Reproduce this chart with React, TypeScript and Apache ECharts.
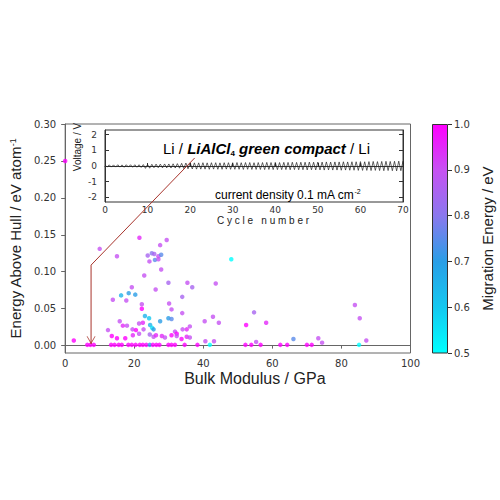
import React, { useEffect, useRef } from "react";
import * as echarts from "echarts";

// Main scatter: bulk modulus (GPa), energy above hull (eV/atom), migration energy (eV)
const bulkModulus = [
  0, 2.5, 10.0, 21.5, 27.5, 29.4, 15.0, 23.9, 25.1, 25.8, 27.0, 27.8, 24.4, 26.0, 27.0, 27.8,
  22.9, 29.9, 19.3, 26.2, 35.4, 36.8, 43.6, 16.2, 18.4, 20.3, 13.8, 17.7, 33.9, 22.2, 30.1,
  22.2, 30.8, 33.9, 23.1, 24.3, 29.9, 30.8, 15.8, 16.7, 17.9, 21.4, 22.5, 24.6, 25.2, 25.6,
  27.5, 40.4, 42.8, 44.5, 36.1, 35.2, 34.0, 12.4, 19.5, 20.5, 22.7, 31.8, 32.3, 24.5, 25.6,
  26.3, 13.5, 15.0, 17.4, 19.6, 21.4, 28.0, 28.9, 30.8, 32.3, 35.2, 36.1, 33.7, 40.6, 43.1,
  41.9,
  6.4, 7.3, 8.3, 13.3, 14.3, 15.5, 16.4, 18.3, 19.3, 20.4, 21.6, 22.5, 23.5, 24.5, 25.4, 26.4,
  27.3, 29.9, 30.8, 31.8, 34.6, 38.3,
  48.1, 54.7, 52.4, 58.2, 52.2, 53.9, 55.3, 56.6, 62.3, 64.3, 66.1, 70.0, 71.4, 73.3, 74.4,
  83.9, 85.3, 85.1, 87.2,
];
const hullEnergy = [
  0.25, 0.007, 0.131, 0.146, 0.136, 0.143, 0.121, 0.122, 0.125, 0.124, 0.121, 0.123, 0.114,
  0.116, 0.117, 0.103, 0.095, 0.085, 0.079, 0.076, 0.085, 0.079, 0.084, 0.068, 0.071, 0.069,
  0.062, 0.061, 0.066, 0.056, 0.057, 0.05, 0.049, 0.044, 0.04, 0.037, 0.037, 0.036, 0.033,
  0.027, 0.027, 0.03, 0.031, 0.028, 0.024, 0.022, 0.033, 0.033, 0.039, 0.031, 0.026, 0.022,
  0.022, 0.021, 0.022, 0.021, 0.022, 0.019, 0.016, 0.015, 0.012, 0.014, 0.013, 0.01, 0.01,
  0.014, 0.016, 0.013, 0.011, 0.014, 0.013, 0.012, 0.011, 0.009, 0.006, 0.006, 0.001,
  0.001, 0.001, 0.001, 0.001, 0.001, 0.001, 0.001, 0.001, 0.001, 0.001, 0.001, 0.001, 0.001,
  0.001, 0.001, 0.001, 0.001, 0.001, 0.001, 0.001, 0.001, 0.001,
  0.117, 0.045, 0.028, 0.031, 0.001, 0.001, 0.005, 0.001, 0.001, 0.001, 0.009, 0.001, 0.001,
  0.01, 0.004, 0.055, 0.037, 0.001, 0.007,
];
const migrationEnergy = [
  1.0, 1.0, 0.9, 0.95, 0.9, 0.9, 0.9, 0.85, 0.8, 0.85, 0.9, 0.75, 0.9, 0.75, 0.9, 0.9, 0.9,
  0.85, 0.9, 0.9, 0.9, 0.85, 0.9, 0.65, 0.7, 0.7, 0.9, 0.9, 0.85, 0.9, 0.9, 1.0, 0.9, 0.9,
  0.65, 0.6, 0.7, 0.75, 0.9, 0.95, 0.9, 0.9, 0.95, 0.65, 0.55, 0.7, 0.7, 0.9, 0.9, 0.9, 0.9,
  0.95, 0.9, 0.9, 0.9, 1.0, 0.9, 0.9, 1.0, 0.85, 0.9, 0.95, 1.0, 1.0, 1.0, 0.95, 0.9, 0.95,
  0.9, 1.0, 0.9, 0.95, 0.9, 1.0, 0.9, 0.9, 0.5,
  1.0, 1.0, 1.0, 1.0, 1.0, 1.0, 1.0, 1.0, 1.0, 1.0, 1.0, 1.0, 1.0, 0.7, 1.0, 1.0, 1.0, 1.0,
  1.0, 1.0, 1.0, 1.0,
  0.5, 0.85, 1.0, 0.95, 1.0, 1.0, 0.9, 1.0, 1.0, 1.0, 0.75, 1.0, 1.0, 0.9, 0.9, 0.9, 0.9,
  0.5, 0.9,
];

// Inset: galvanostatic cycling, per-cycle upper / lower voltage (V)
const cycleUpper = [
  0.06, 0.07, 0.07, 0.08, 0.07, 0.08, 0.08, 0.08, 0.08, 0.09,
  0.1, 0.11, 0.12, 0.12, 0.13, 0.13, 0.14, 0.15, 0.17, 0.19,
  0.2, 0.2, 0.2, 0.21, 0.2, 0.21, 0.21, 0.2, 0.21, 0.21,
  0.21, 0.22, 0.21, 0.22, 0.22, 0.21, 0.22, 0.22, 0.23, 0.22,
  0.23, 0.22, 0.23, 0.23, 0.24, 0.23, 0.24, 0.24, 0.25, 0.24,
  0.25, 0.25, 0.26, 0.25, 0.26, 0.26, 0.27, 0.26, 0.27, 0.27,
  0.28, 0.27, 0.28, 0.29, 0.28, 0.29, 0.3, 0.29, 0.3, 0.31, 0.3,
];
const cycleLower = [
  -0.06, -0.07, -0.07, -0.07, -0.08, -0.07, -0.08, -0.08, -0.09, -0.15,
  -0.14, -0.11, -0.11, -0.12, -0.12, -0.13, -0.13, -0.14, -0.16, -0.18,
  -0.19, -0.2, -0.2, -0.2, -0.21, -0.2, -0.21, -0.21, -0.2, -0.21,
  -0.21, -0.21, -0.22, -0.21, -0.22, -0.22, -0.22, -0.23, -0.22, -0.23,
  -0.23, -0.23, -0.23, -0.24, -0.23, -0.24, -0.24, -0.25, -0.24, -0.25,
  -0.25, -0.26, -0.25, -0.26, -0.26, -0.27, -0.26, -0.27, -0.27, -0.28,
  -0.28, -0.28, -0.29, -0.28, -0.29, -0.3, -0.29, -0.3, -0.31, -0.3, -0.31,
];

const hullTicks = [0, 0.05, 0.1, 0.15, 0.2, 0.25, 0.3];
const voltageTicks = [-2, -1, 0, 1, 2];
const arrowPath = [
  [37.5, 0.254],
  [7.5, 0.109],
  [7.5, 0.002],
];

const cmap = ["#00ffff", "#14c8f0", "#2a9ee6", "#8a78ee", "#c652f2", "#ff00ff"];
const arrowColor = "#a8342c";

export default function App() {
  const ref = useRef<HTMLDivElement>(null);
  useEffect(() => {
    const chart = echarts.init(ref.current!, null, { renderer: "svg" });
    const scatterData = bulkModulus.map((b, i) => [b, hullEnergy[i], migrationEnergy[i]]);
    const voltageData: number[][] = [];
    cycleUpper.forEach((u, c) => {
      voltageData.push([c, u]);
      voltageData.push([c + 0.5, cycleLower[c]]);
    });
    const tickFont = { fontFamily: "DejaVu Sans", fontSize: 10, color: "#333" };
    const option: any = {
      animation: false,
      backgroundColor: "#fff",
      grid: [
        { left: 63, top: 124, width: 347.5, height: 229, show: true, borderColor: "#666", borderWidth: 1, backgroundColor: "transparent" },
        { left: 105, top: 130, width: 298, height: 72, show: true, borderColor: "#333", borderWidth: 1, backgroundColor: "#fff" },
        { left: 432, top: 124, width: 16, height: 229 },
      ],
      visualMap: {
        type: "continuous",
        show: false,
        min: 0.5,
        max: 1.0,
        dimension: 2,
        seriesIndex: 0,
        inRange: { color: cmap },
      },
      xAxis: [
        {
          gridIndex: 0,
          type: "value",
          min: 0,
          max: 100,
          interval: 20,
          axisLine: { lineStyle: { color: "#666" } },
          axisTick: { show: true, length: 3, lineStyle: { color: "#666" } },
          axisLabel: { ...tickFont, margin: 5 },
          splitLine: { show: false },
          name: "Bulk Modulus / GPa",
          nameLocation: "middle",
          nameGap: 17,
          nameTextStyle: { fontFamily: "Liberation Sans", fontSize: 16, color: "#222", padding: [0, 0, 0, 34] },
        },
        {
          gridIndex: 1,
          type: "value",
          min: 0,
          max: 70,
          interval: 10,
          axisLine: { lineStyle: { color: "#333" } },
          axisTick: { show: true, inside: true, length: 3, lineStyle: { color: "#333" } },
          axisLabel: { fontFamily: "DejaVu Sans", fontSize: 9, color: "#333", margin: 3 },
          splitLine: { show: false },
          name: "C y c l e   n u m b e r",
          nameLocation: "middle",
          nameGap: 13,
          nameTextStyle: { fontFamily: "Liberation Sans", fontSize: 10, color: "#222", padding: [0, 0, 0, 18] },
        },
        {
          gridIndex: 2,
          type: "category",
          data: ["c"],
          show: false,
        },
      ],
      yAxis: [
        {
          gridIndex: 0,
          type: "value",
          min: -0.01,
          max: 0.3,
          axisLine: { show: true, lineStyle: { color: "#666" } },
          axisTick: { show: true, length: 4, customValues: hullTicks, lineStyle: { color: "#666" } },
          axisLabel: { ...tickFont, margin: 9, customValues: hullTicks, formatter: (v: number) => v.toFixed(2) },
          splitLine: { show: false },
          name: "Energy Above Hull / eV atom{s|-1}",
          nameLocation: "middle",
          nameGap: 41,
          nameTextStyle: {
            fontFamily: "Liberation Sans",
            fontSize: 15,
            color: "#222",
            rich: { s: { fontFamily: "Liberation Sans", fontSize: 9, color: "#222", verticalAlign: "top", lineHeight: 15 } },
          },
        },
        {
          gridIndex: 1,
          type: "value",
          min: -2.3,
          max: 2.3,
          axisLine: { show: true, lineStyle: { color: "#333" } },
          axisTick: { show: true, inside: true, length: 4, customValues: voltageTicks, lineStyle: { color: "#333" } },
          axisLabel: { fontFamily: "DejaVu Sans", fontSize: 9, color: "#333", margin: 8, customValues: voltageTicks },
          splitLine: { show: false },
        },
        {
          gridIndex: 1,
          type: "value",
          position: "right",
          min: -2.3,
          max: 2.3,
          axisLine: { show: true, lineStyle: { color: "#333" } },
          axisTick: { show: true, inside: true, length: 4, customValues: voltageTicks, lineStyle: { color: "#333" } },
          axisLabel: { show: false },
          splitLine: { show: false },
        },
        {
          gridIndex: 2,
          type: "value",
          position: "right",
          min: 0.5,
          max: 1.0,
          interval: 0.1,
          axisLine: { show: false },
          axisTick: { show: true, length: 4, lineStyle: { color: "#333" } },
          axisLabel: { ...tickFont, margin: 6, formatter: (v: number) => v.toFixed(1) },
          splitLine: { show: false },
          name: "Migration Energy / eV",
          nameLocation: "middle",
          nameGap: 32,
          nameTextStyle: { fontFamily: "Liberation Sans", fontSize: 15, color: "#222" },
        },
      ],
      series: [
        {
          type: "scatter",
          xAxisIndex: 0,
          yAxisIndex: 0,
          data: scatterData,
          symbolSize: 4.5,
          clip: false,
          z: 3,
        },
        {
          type: "line",
          xAxisIndex: 1,
          yAxisIndex: 1,
          data: voltageData,
          showSymbol: false,
          lineStyle: { color: "#222", width: 0.7 },
          z: 4,
        },
        {
          type: "bar",
          xAxisIndex: 2,
          yAxisIndex: 3,
          data: [1.0],
          barWidth: "100%",
          itemStyle: {
            color: new echarts.graphic.LinearGradient(0, 0, 0, 1, [
              { offset: 0, color: cmap[5] },
              { offset: 0.2, color: cmap[4] },
              { offset: 0.4, color: cmap[3] },
              { offset: 0.6, color: cmap[2] },
              { offset: 0.8, color: cmap[1] },
              { offset: 1, color: cmap[0] },
            ]),
            borderColor: "#333",
            borderWidth: 1,
          },
        },
        {
          type: "lines",
          coordinateSystem: "cartesian2d",
          xAxisIndex: 0,
          yAxisIndex: 0,
          polyline: true,
          lineStyle: { color: arrowColor, width: 1, opacity: 1 },
          data: [{ coords: arrowPath }],
          z: 10,
        },
        {
          type: "scatter",
          xAxisIndex: 0,
          yAxisIndex: 0,
          data: [arrowPath[arrowPath.length - 1]],
          symbol: "path://M0,0 L5,9 L10,0 L9,0 L5,7 L1,0 Z",
          symbolSize: [9, 8],
          symbolOffset: [0, -4],
          itemStyle: { color: arrowColor },
          silent: true,
          z: 11,
        },
      ],
      graphic: [
        {
          type: "text",
          x: 163,
          y: 148,
          z: 100,
          style: {
            text: "{a|Li / }{b|LiAlCl}{s|4}{c| green compact}{a| / Li}",
            verticalAlign: "middle",
            rich: {
              a: { fontFamily: "Liberation Sans", fontSize: 15, color: "#222", lineHeight: 18 },
              b: { fontFamily: "Liberation Sans", fontSize: 15, fontWeight: "bold", fontStyle: "italic", color: "#c8302c", lineHeight: 18 },
              s: { fontFamily: "Liberation Sans", fontSize: 8, fontWeight: "bold", color: "#c8302c", lineHeight: 18, verticalAlign: "bottom" },
              c: { fontFamily: "Liberation Sans", fontSize: 15, fontWeight: "bold", fontStyle: "italic", color: "#111", lineHeight: 18 },
            },
          },
        },
        {
          type: "text",
          x: 215,
          y: 195,
          z: 100,
          style: {
            text: "{a|current density 0.1 mA cm}{s|-2}",
            verticalAlign: "middle",
            rich: {
              a: { fontFamily: "Liberation Sans", fontSize: 12, color: "#222", lineHeight: 14 },
              s: { fontFamily: "Liberation Sans", fontSize: 7, color: "#222", lineHeight: 14, verticalAlign: "top" },
            },
          },
        },
        {
          type: "text",
          x: 77,
          y: 147,
          rotation: Math.PI / 2,
          z: 100,
          style: {
            text: "Voltage / V",
            fontFamily: "Liberation Sans",
            fontSize: 10,
            fill: "#222",
            align: "center",
            verticalAlign: "middle",
          },
        },
      ],
    };
    chart.setOption(option);
    return () => chart.dispose();
  }, []);
  return <div ref={ref} style={{ width: 500, height: 500, position: "absolute", left: 0, top: 0 }} />;
}
